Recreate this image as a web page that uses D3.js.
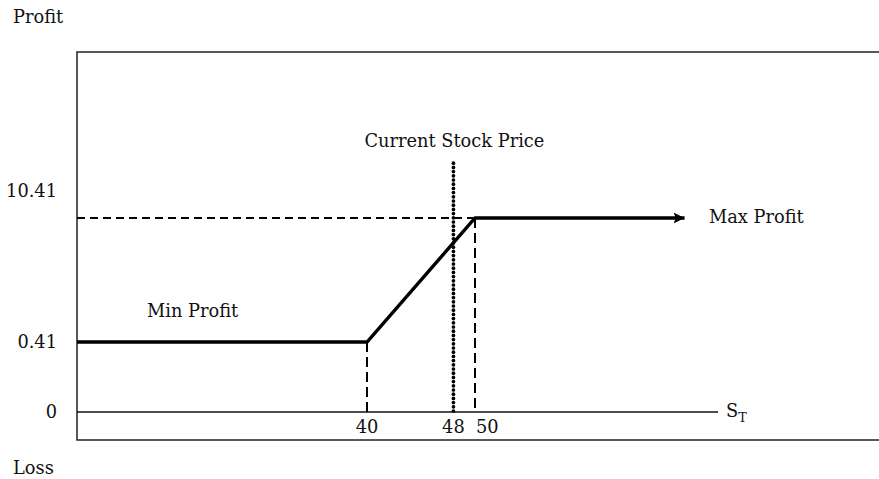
<!DOCTYPE html>
<html><head><meta charset="utf-8">
<script src="https://cdn.jsdelivr.net/npm/d3@7"></script>
<style>
html,body{margin:0;padding:0;background:#fff;}
svg text{font-family:"DejaVu Serif","Liberation Serif",serif;fill:#111;}
</style></head>
<body><svg id="c" width="879" height="479"></svg>
<script>
// ---- data ----
const payoffX = [13.15, 40, 50, 69.4];
const payoffY = [0.41, 0.41, 10.41, 10.41];
const xTicks = [40, 48, 50];
const xTickLabels = ["40", "48", "50"];
const yTicks = [0, 0.41, 10.41];
const yTickLabels = ["0", "0.41", "10.41"];
const currentPrice = 48;
const priceLineTop = 14.9;
const axisEndX = 72.5;
const strikeLow = 40, strikeHigh = 50;
const minProfit = 0.41, maxProfit = 10.41;

const svg = d3.select("#c");
const FS = 17.8;
// piecewise scales (chart is schematic, not to scale)
const x = d3.scaleLinear().domain([13.15, 87.4]).range([77, 879]);
const y = d3.scaleLinear().domain([-0.164, 0, 0.41, 10.41, 23.8]).range([440, 412, 342, 218, 52]);

// frame
svg.append("rect").attr("x", x(13.15)).attr("y", y(23.8))
  .attr("width", 900 - x(13.15)).attr("height", y(-0.164) - y(23.8))
  .attr("fill", "none").attr("stroke", "#222").attr("stroke-width", 1.5);

// zero axis
svg.append("line").attr("x1", x(13.15)).attr("x2", x(axisEndX))
  .attr("y1", y(0)).attr("y2", y(0)).attr("stroke", "#111").attr("stroke-width", 1.3);

// dashed guides
const g = svg.append("g").attr("shape-rendering", "crispEdges");
g.append("line").attr("x1", x(13.15)).attr("x2", x(strikeHigh))
  .attr("y1", y(maxProfit)).attr("y2", y(maxProfit))
  .attr("stroke", "#000").attr("stroke-width", 1.3).attr("stroke-dasharray", "8,5");
g.append("line").attr("x1", x(strikeLow)).attr("x2", x(strikeLow))
  .attr("y1", y(minProfit)).attr("y2", y(0))
  .attr("stroke", "#000").attr("stroke-width", 1.3).attr("stroke-dasharray", "10,5");
g.append("line").attr("x1", x(strikeHigh)).attr("x2", x(strikeHigh))
  .attr("y1", y(maxProfit)).attr("y2", y(0))
  .attr("stroke", "#000").attr("stroke-width", 1.3).attr("stroke-dasharray", "10,5");

// dotted current price (drawn as round dots along the line)
const dotYs = d3.range(y(0) - 1, y(priceLineTop) - 0.5, -4.2);
svg.append("g").selectAll("circle").data(dotYs).join("circle")
  .attr("cx", x(currentPrice)).attr("cy", d => d).attr("r", 1.85).attr("fill", "#000");

// arrow marker
svg.append("defs").append("marker").attr("id", "arr")
  .attr("viewBox", "0 0 10 10").attr("refX", 10).attr("refY", 5)
  .attr("markerWidth", 11).attr("markerHeight", 12).attr("markerUnits", "userSpaceOnUse")
  .attr("orient", "auto")
  .append("path").attr("d", "M0,0 L10,5 L0,10 L2,5 Z").attr("fill", "#000");

// payoff line
const pts = payoffX.map((v, i) => [v, payoffY[i]]);
svg.append("path").datum(pts)
  .attr("d", d3.line().x(d => x(d[0])).y(d => y(d[1])))
  .attr("fill", "none").attr("stroke", "#000").attr("stroke-width", 3.4)
  .attr("stroke-linejoin", "miter").attr("marker-end", "url(#arr)");

// y labels
const yLab = svg.append("g").attr("font-size", FS).attr("text-anchor", "end");
const yOff = {"0": 6, "0.41": 6, "10.41": -21};
yTicks.forEach((v, i) => {
  yLab.append("text").attr("x", 57).attr("y", y(v) + yOff[yTickLabels[i]]).text(yTickLabels[i]);
});

// x labels
const xLab = svg.append("g").attr("font-size", FS);
xTicks.forEach((v, i) => {
  const t = xLab.append("text").attr("y", y(0) + 21).text(xTickLabels[i]);
  if (v === 50) t.attr("x", x(v) + 1).attr("text-anchor", "start");
  else t.attr("x", x(v)).attr("text-anchor", "middle");
});

// annotations
svg.append("text").attr("x", 13).attr("y", 23).attr("font-size", FS).text("Profit");
svg.append("text").attr("x", 13).attr("y", 474).attr("font-size", FS).text("Loss");
svg.append("text").attr("x", x(currentPrice) + 1).attr("y", 147).attr("font-size", FS)
  .attr("text-anchor", "middle").text("Current Stock Price");
svg.append("text").attr("x", 147).attr("y", 317).attr("font-size", FS).text("Min Profit");
svg.append("text").attr("x", 709).attr("y", y(maxProfit) + 5).attr("font-size", FS).text("Max Profit");
const st = svg.append("text").attr("x", x(axisEndX) + 8).attr("y", y(0) + 5).attr("font-size", FS);
st.append("tspan").text("S");
st.append("tspan").attr("font-size", FS * 0.72).attr("dy", 5).text("T");
</script></body></html>
